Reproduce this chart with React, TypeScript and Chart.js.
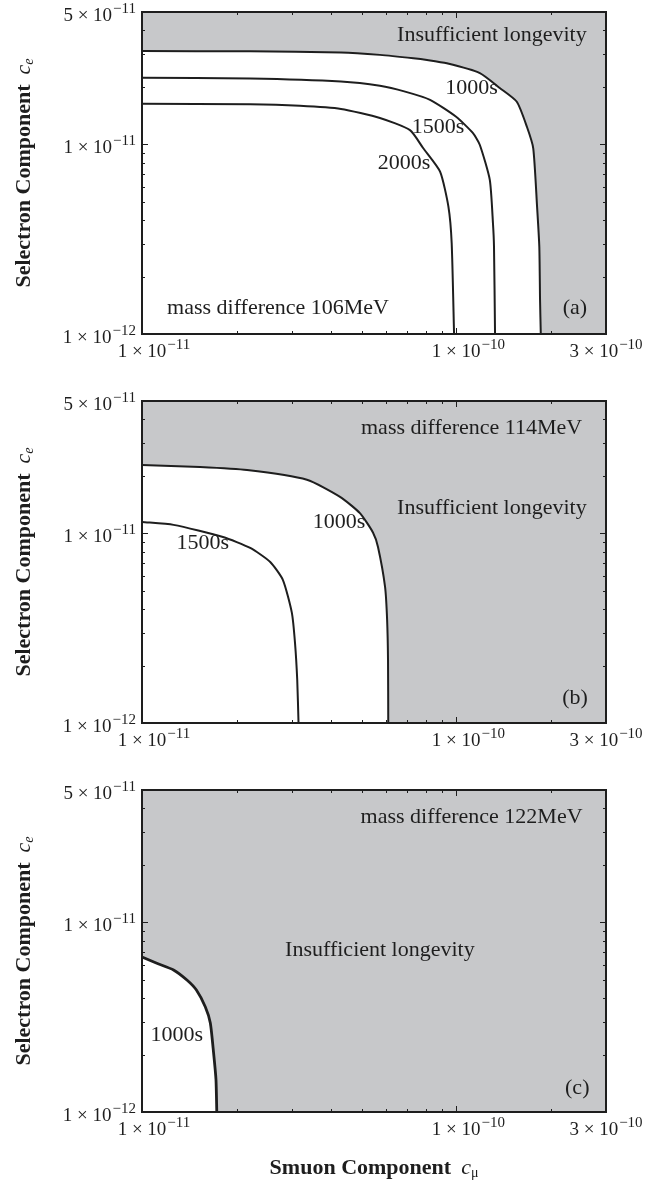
import React, { useEffect, useRef } from "react";
import { Chart, registerables } from "chart.js";

Chart.register(...registerables);

// ---- axes ----
const X_MIN = 1e-11;
const X_MAX = 3e-10;
const Y_MIN = 1e-12;
const Y_MAX = 5e-11;

const xLabelValues = [1e-11, 1e-10, 3e-10];
const xLabelMantissas = ["1", "1", "3"];
const xLabelExponents = ["\u221211", "\u221210", "\u221210"];
const yLabelValues = [1e-12, 1e-11, 5e-11];
const yLabelMantissas = ["1", "1", "5"];
const yLabelExponents = ["\u221212", "\u221211", "\u221211"];
const xMajorTicks = [1e-11, 1e-10];
const xMinorTicks = [2e-11, 3e-11, 4e-11, 5e-11, 6e-11, 7e-11, 8e-11, 9e-11, 2e-10];
const yMajorTicks = [1e-12, 1e-11];
const yMinorTicks = [2e-12, 3e-12, 4e-12, 5e-12, 6e-12, 7e-12, 8e-12, 9e-12, 2e-11, 3e-11, 4e-11];

// ---- panel (a): mass difference 106 MeV ----
const a1000X = [1e-11, 2.21e-11, 4.3e-11, 5.72e-11, 7.31e-11, 8.08e-11, 9.34e-11, 1.19e-10, 1.38e-10, 1.56e-10, 1.68e-10, 1.76e-10, 1.81e-10, 1.84e-10, 1.85e-10, 1.86e-10];
const a1000Y = [3.11e-11, 3.1e-11, 3.06e-11, 2.97e-11, 2.85e-11, 2.79e-11, 2.68e-11, 2.38e-11, 1.98e-11, 1.68e-11, 1.24e-11, 9.55e-12, 4.7e-12, 2.89e-12, 1.51e-12, 1e-12];
const a1500X = [1e-11, 2.21e-11, 4.3e-11, 5.72e-11, 6.88e-11, 8.26e-11, 1.0e-10, 1.13e-10, 1.19e-10, 1.28e-10, 1.31e-10, 1.32e-10, 1.33e-10];
const a1500Y = [2.25e-11, 2.23e-11, 2.15e-11, 2.04e-11, 1.9e-11, 1.72e-11, 1.4e-11, 1.15e-11, 9.94e-12, 6.5e-12, 3.84e-12, 2.89e-12, 1e-12];
const a2000X = [1e-11, 2.21e-11, 3.18e-11, 4.3e-11, 5.72e-11, 7.13e-11, 7.86e-11, 8.89e-11, 9.45e-11, 9.68e-11, 9.85e-11];
const a2000Y = [1.64e-11, 1.63e-11, 1.6e-11, 1.54e-11, 1.38e-11, 1.19e-11, 9.55e-12, 7.19e-12, 4.7e-12, 3.01e-12, 1e-12];
const aLabelTexts = ["Insufficient longevity", "1000s", "1500s", "2000s", "mass difference 106MeV", "(a)"];
const aLabelX = [1.3e-10, 1.12e-10, 8.76e-11, 6.83e-11, 2.71e-11, 2.39e-10];
const aLabelY = [3.78e-11, 1.99e-11, 1.24e-11, 7.99e-12, 1.37e-12, 1.37e-12];

// ---- panel (b): mass difference 114 MeV ----
const b1000X = [1e-11, 1.53e-11, 2.16e-11, 3.35e-11, 4.27e-11, 4.94e-11, 5.44e-11, 5.64e-11, 5.94e-11, 6.03e-11, 6.07e-11, 6.08e-11];
const b1000Y = [2.3e-11, 2.24e-11, 2.16e-11, 1.92e-11, 1.56e-11, 1.28e-11, 1.01e-11, 8.49e-12, 5.22e-12, 3.5e-12, 2.15e-12, 1e-12];
const b1500X = [1e-11, 1.26e-11, 1.81e-11, 2.21e-11, 2.56e-11, 2.81e-11, 3.0e-11, 3.07e-11, 3.12e-11, 3.15e-11];
const b1500Y = [1.15e-11, 1.11e-11, 9.58e-12, 8.39e-12, 7.07e-12, 5.68e-12, 3.81e-12, 2.64e-12, 1.69e-12, 1e-12];
const bLabelTexts = ["mass difference 114MeV", "Insufficient longevity", "1000s", "1500s", "(b)"];
const bLabelX = [1.12e-10, 1.3e-10, 4.24e-11, 1.56e-11, 2.39e-10];
const bLabelY = [3.6e-11, 1.36e-11, 1.14e-11, 8.91e-12, 1.35e-12];

// ---- panel (c): mass difference 122 MeV ----
const c1000X = [1e-11, 1.11e-11, 1.26e-11, 1.39e-11, 1.49e-11, 1.59e-11, 1.65e-11, 1.69e-11, 1.72e-11, 1.73e-11];
const c1000Y = [6.58e-12, 6.11e-12, 5.62e-12, 4.97e-12, 4.4e-12, 3.59e-12, 2.95e-12, 2.05e-12, 1.48e-12, 1e-12];
const cLabelTexts = ["mass difference 122MeV", "Insufficient longevity", "1000s", "(c)"];
const cLabelX = [1.12e-10, 5.72e-11, 1.29e-11, 2.43e-10];
const cLabelY = [3.61e-11, 7.16e-12, 2.55e-12, 1.34e-12];

// ---- styling ----
const FONT = '"Liberation Serif", "Times New Roman", serif';
const GREY = "#c7c8ca";
const INK = "#1e1e1e";
const W = 667;
const PANEL_STEP = 389;
const PAD = { left: 142, right: 61, top: 12, plotBottom: 334 };

type Curve = { xs: number[]; ys: number[]; boundary: boolean };
type PanelProps = {
  top: number;
  height: number;
  curves: Curve[];
  labelTexts: string[];
  labelX: number[];
  labelY: number[];
  lineWidth: number;
  xTitle: boolean;
};

function toPoints(xs: number[], ys: number[]) {
  return xs.map((x, i) => ({ x, y: ys[i] }));
}

function drawSci(ctx: CanvasRenderingContext2D, mant: string, exp: string, x: number, baseline: number, align: string) {
  const baseFont = `19px ${FONT}`;
  const supFont = `15px ${FONT}`;
  const base = mant + " \u00d7 10";
  ctx.font = baseFont;
  const wb = ctx.measureText(base).width;
  ctx.font = supFont;
  const ws = ctx.measureText(exp).width + 1;
  let left: number;
  if (align === "right") left = x - wb - ws;
  else if (align === "center") left = x - (wb + ws) / 2;
  else left = x - wb / 2;
  ctx.textAlign = "left";
  ctx.textBaseline = "alphabetic";
  ctx.font = baseFont;
  ctx.fillText(base, left, baseline);
  ctx.font = supFont;
  ctx.fillText(exp, left + wb + 1, baseline - 8);
}

function makePlugin(props: PanelProps) {
  return {
    id: "panelDecor",
    beforeDraw(chart: any) {
      const { ctx, chartArea } = chart;
      ctx.save();
      ctx.fillStyle = GREY;
      ctx.fillRect(chartArea.left, chartArea.top, chartArea.right - chartArea.left, chartArea.bottom - chartArea.top);
      ctx.restore();
    },
    afterDatasetsDraw(chart: any) {
      const { ctx, chartArea } = chart;
      const xs = chart.scales.x;
      const ys = chart.scales.y;
      const { left, right, top, bottom } = chartArea;
      ctx.save();
      // frame
      ctx.strokeStyle = INK;
      ctx.lineWidth = 2;
      ctx.strokeRect(left, top, right - left, bottom - top);
      // ticks
      ctx.lineWidth = 1;
      const tick = (vals: number[], len: number, horiz: boolean) => {
        vals.forEach((v) => {
          if (horiz) {
            const px = Math.round(xs.getPixelForValue(v)) + 0.5;
            ctx.beginPath();
            ctx.moveTo(px, bottom);
            ctx.lineTo(px, bottom - len);
            ctx.moveTo(px, top);
            ctx.lineTo(px, top + len);
            ctx.stroke();
          } else {
            const py = Math.round(ys.getPixelForValue(v)) + 0.5;
            ctx.beginPath();
            ctx.moveTo(left, py);
            ctx.lineTo(left + len, py);
            ctx.moveTo(right, py);
            ctx.lineTo(right - len, py);
            ctx.stroke();
          }
        });
      };
      tick(xMajorTicks, 6, true);
      tick(xMinorTicks, 3, true);
      tick(yMajorTicks, 6, false);
      tick(yMinorTicks, 3, false);

      // tick labels
      ctx.fillStyle = INK;
      xLabelValues.forEach((v, i) => {
        const px = xs.getPixelForValue(v);
        const atEdge = Math.abs(px - right) < 1;
        drawSci(ctx, xLabelMantissas[i], xLabelExponents[i], px, bottom + 23, atEdge ? "center" : "base");
      });
      yLabelValues.forEach((v, i) => {
        const py = ys.getPixelForValue(v);
        drawSci(ctx, yLabelMantissas[i], yLabelExponents[i], left - 6, py + 9, "right");
      });

      // y title
      ctx.save();
      ctx.translate(24, (top + bottom) / 2);
      ctx.rotate(-Math.PI / 2);
      const t1 = "Selectron Component";
      ctx.font = `bold 22px ${FONT}`;
      const w1 = ctx.measureText(t1).width;
      ctx.font = `italic 22px ${FONT}`;
      const wc = ctx.measureText("c").width;
      ctx.font = `italic 14px ${FONT}`;
      const we = ctx.measureText("e").width;
      const gap = 10;
      const total = w1 + gap + wc + we;
      let cx = -total / 2;
      ctx.textBaseline = "middle";
      ctx.textAlign = "left";
      ctx.font = `bold 22px ${FONT}`;
      ctx.fillText(t1, cx, 0);
      cx += w1 + gap;
      ctx.font = `italic 22px ${FONT}`;
      ctx.fillText("c", cx, 0);
      cx += wc;
      ctx.font = `italic 14px ${FONT}`;
      ctx.fillText("e", cx, 5);
      ctx.restore();

      // x title
      if (props.xTitle) {
        const s1 = "Smuon Component";
        ctx.font = `bold 22px ${FONT}`;
        const ws1 = ctx.measureText(s1).width;
        ctx.font = `italic 22px ${FONT}`;
        const wcc = ctx.measureText("c").width;
        ctx.font = `14px ${FONT}`;
        const wm = ctx.measureText("\u03bc").width;
        const g = 10;
        const tot = ws1 + g + wcc + wm;
        let x0 = (left + right) / 2 - tot / 2;
        const yy = bottom + 56;
        ctx.textBaseline = "middle";
        ctx.textAlign = "left";
        ctx.font = `bold 22px ${FONT}`;
        ctx.fillText(s1, x0, yy);
        x0 += ws1 + g;
        ctx.font = `italic 22px ${FONT}`;
        ctx.fillText("c", x0, yy);
        x0 += wcc;
        ctx.font = `14px ${FONT}`;
        ctx.fillText("\u03bc", x0, yy + 5);
      }

      // annotations
      ctx.font = `22px ${FONT}`;
      ctx.textAlign = "center";
      ctx.textBaseline = "middle";
      ctx.fillStyle = INK;
      props.labelTexts.forEach((t, i) => {
        ctx.fillText(t, xs.getPixelForValue(props.labelX[i]), ys.getPixelForValue(props.labelY[i]));
      });
      ctx.restore();
    },
  };
}

function Panel(props: PanelProps) {
  const ref = useRef<HTMLCanvasElement | null>(null);
  useEffect(() => {
    if (!ref.current) return;
    const datasets = props.curves.map((c) => ({
      data: toPoints(c.xs, c.ys),
      borderColor: INK,
      borderWidth: props.lineWidth,
      backgroundColor: "#ffffff",
      fill: c.boundary ? "start" : false,
      pointRadius: 0,
      tension: 0.2,
    }));
    const chart = new Chart(ref.current, {
      type: "line",
      data: { datasets } as any,
      options: {
        responsive: false,
        animation: false,
        devicePixelRatio: 1,
        parsing: false as any,
        layout: {
          padding: {
            left: PAD.left,
            right: PAD.right,
            top: PAD.top,
            bottom: props.height - PAD.plotBottom,
          },
        },
        plugins: {
          legend: { display: false },
          tooltip: { enabled: false },
          filler: { drawTime: "beforeDatasetsDraw" },
        },
        scales: {
          x: { type: "logarithmic", min: X_MIN, max: X_MAX, display: false },
          y: { type: "logarithmic", min: Y_MIN, max: Y_MAX, display: false },
        },
      } as any,
      plugins: [makePlugin(props)],
    });
    return () => chart.destroy();
  }, []);
  return (
    <canvas
      ref={ref}
      width={W}
      height={props.height}
      style={{ position: "absolute", left: 0, top: props.top, width: W, height: props.height }}
    />
  );
}

export default function App() {
  return (
    <div style={{ position: "absolute", left: 0, top: 0, width: W, height: 1184, background: "#fff" }}>
      <Panel
        top={0}
        height={PANEL_STEP}
        curves={[
          { xs: a1000X, ys: a1000Y, boundary: true },
          { xs: a1500X, ys: a1500Y, boundary: false },
          { xs: a2000X, ys: a2000Y, boundary: false },
        ]}
        labelTexts={aLabelTexts}
        labelX={aLabelX}
        labelY={aLabelY}
        lineWidth={2}
        xTitle={false}
      />
      <Panel
        top={PANEL_STEP}
        height={PANEL_STEP}
        curves={[
          { xs: b1000X, ys: b1000Y, boundary: true },
          { xs: b1500X, ys: b1500Y, boundary: false },
        ]}
        labelTexts={bLabelTexts}
        labelX={bLabelX}
        labelY={bLabelY}
        lineWidth={2}
        xTitle={false}
      />
      <Panel
        top={PANEL_STEP * 2}
        height={1184 - PANEL_STEP * 2}
        curves={[{ xs: c1000X, ys: c1000Y, boundary: true }]}
        labelTexts={cLabelTexts}
        labelX={cLabelX}
        labelY={cLabelY}
        lineWidth={2.8}
        xTitle={true}
      />
    </div>
  );
}
